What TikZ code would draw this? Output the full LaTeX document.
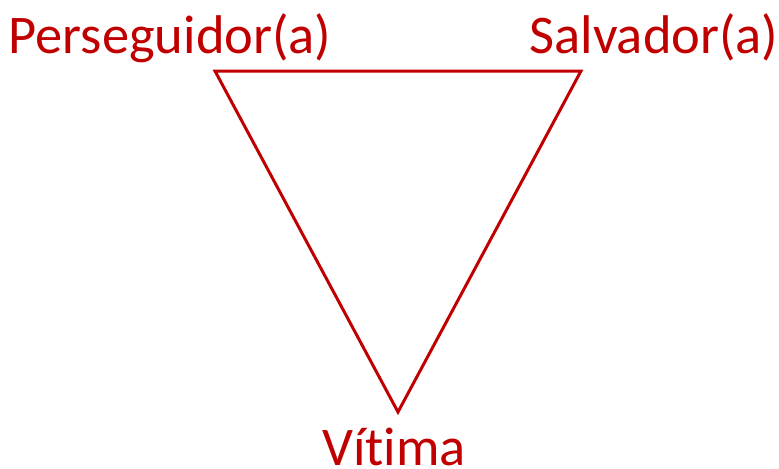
\documentclass[tikz,border=0pt]{standalone}
\usepackage{fontspec}
\setmainfont[Ligatures=NoCommon]{Carlito}
\definecolor{drama}{HTML}{C00000}

\begin{document}
\begin{tikzpicture}[x=0.02cm, y=-0.02cm, every node/.style={font=\fontsize{31}{36}\selectfont, text=drama, inner sep=0pt}, edge/.style={draw=drama, line width=1.7pt, line join=miter}]
	\useasboundingbox (0,0) rectangle (779,468);
	% vertices of the triangle
	\coordinate (pc) at (215,71);
	\coordinate (sc) at (581,71);
	\coordinate (vc) at (398,412);
	% labels
	\node[anchor=base] (perseguidor) at (170,53) {Perseguidor(a)};
	\node[anchor=base] (salvador) at (654,53) {Salvador(a)};
	\node[anchor=base] (vitima) at (394,465) {Vítima};
	\draw[edge] (pc) -- (sc) -- (vc) -- cycle;
\end{tikzpicture}
\end{document}
